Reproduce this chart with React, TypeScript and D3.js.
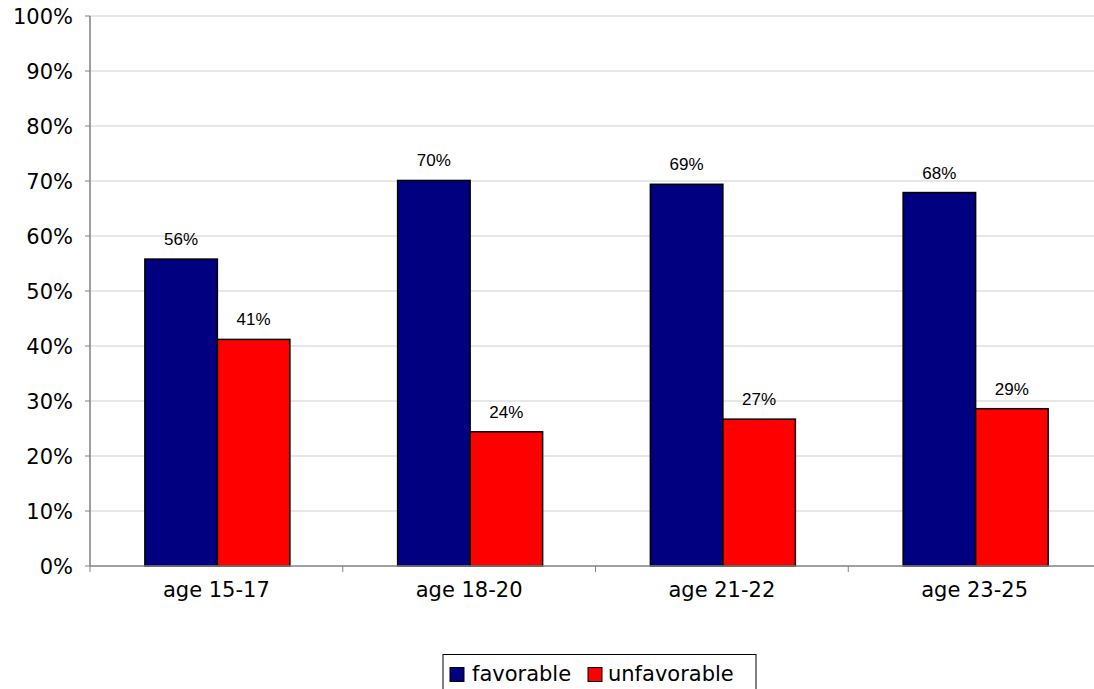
import React from "react";
import * as d3 from "d3";

const categories = ["age 15-17", "age 18-20", "age 21-22", "age 23-25"];
const favorable = [55.8, 70.1, 69.4, 67.9];
const unfavorable = [41.2, 24.4, 26.7, 28.6];
const seriesNames = ["favorable", "unfavorable"];
const yTicks = [0, 10, 20, 30, 40, 50, 60, 70, 80, 90, 100];

const W = 1094;
const H = 689;
const left = 90;
const top = 16;
const bottom = 566;
const plotRight = 1101;
const colors = ["#000080", "#FF0000"];

export default function App() {
  const y = d3.scaleLinear().domain([0, 100]).range([bottom, top]);
  const x0 = d3.scaleBand<string>().domain(categories).range([left, plotRight]).paddingInner(0).paddingOuter(0);
  const groupW = x0.bandwidth();
  const barW = 72.5;
  const series = [favorable, unfavorable];
  const font = "'DejaVu Sans', Verdana, sans-serif";

  return (
    <svg width={W} height={H} style={{ position: "absolute", left: 0, top: 0, background: "#fff" }}>
      {yTicks.map((t) => (
        <g key={t}>
          {t > 0 && <line x1={left} x2={W} y1={y(t)} y2={y(t)} stroke="#cfcfcf" strokeWidth={1} />}
          <line x1={left - 5} x2={left} y1={y(t)} y2={y(t)} stroke="#808080" strokeWidth={1} />
          <text x={73} y={y(t)} dy="0.36em" textAnchor="end" fontFamily={font} fontSize={21} fill="#000">
            {t}%
          </text>
        </g>
      ))}
      {categories.map((c, i) =>
        series.map((s, k) => {
          const cx = (x0(c) as number) + groupW / 2 + 1;
          const bx = cx + (k === 0 ? -barW : 0);
          const v = s[i];
          return (
            <g key={c + k}>
              <rect x={bx} y={y(v)} width={barW} height={bottom - y(v)} fill={colors[k]} stroke="#000" strokeWidth={1.5} />
              <text x={bx + barW / 2} y={y(v) - 14} textAnchor="middle" fontFamily="'Liberation Sans', Arial, sans-serif" fontSize={17} fill="#000">
                {Math.round(v)}%
              </text>
            </g>
          );
        })
      )}
      <line x1={left} x2={left} y1={top} y2={bottom} stroke="#808080" strokeWidth={1.5} />
      <line x1={left} x2={W} y1={bottom} y2={bottom} stroke="#808080" strokeWidth={1.5} />
      {categories.map((c, i) => (
        <line key={"t" + i} x1={(x0(c) as number)} x2={(x0(c) as number)} y1={bottom} y2={bottom + 6} stroke="#808080" strokeWidth={1} />
      ))}
      {categories.map((c) => (
        <text key={"l" + c} x={(x0(c) as number) + groupW / 2} y={597} textAnchor="middle" fontFamily={font} fontSize={21} fill="#000">
          {c}
        </text>
      ))}
      <g>
        <rect x={443} y={654.5} width={313} height={50} fill="#fff" stroke="#000" strokeWidth={1} />
        <rect x={450} y={667.5} width={14} height={14} fill={colors[0]} stroke="#000" strokeWidth={1} />
        <text x={472} y={681} fontFamily={font} fontSize={21} fill="#000">{seriesNames[0]}</text>
        <rect x={588} y={667.5} width={14} height={14} fill={colors[1]} stroke="#000" strokeWidth={1} />
        <text x={608} y={681} fontFamily={font} fontSize={21} fill="#000">{seriesNames[1]}</text>
      </g>
    </svg>
  );
}
